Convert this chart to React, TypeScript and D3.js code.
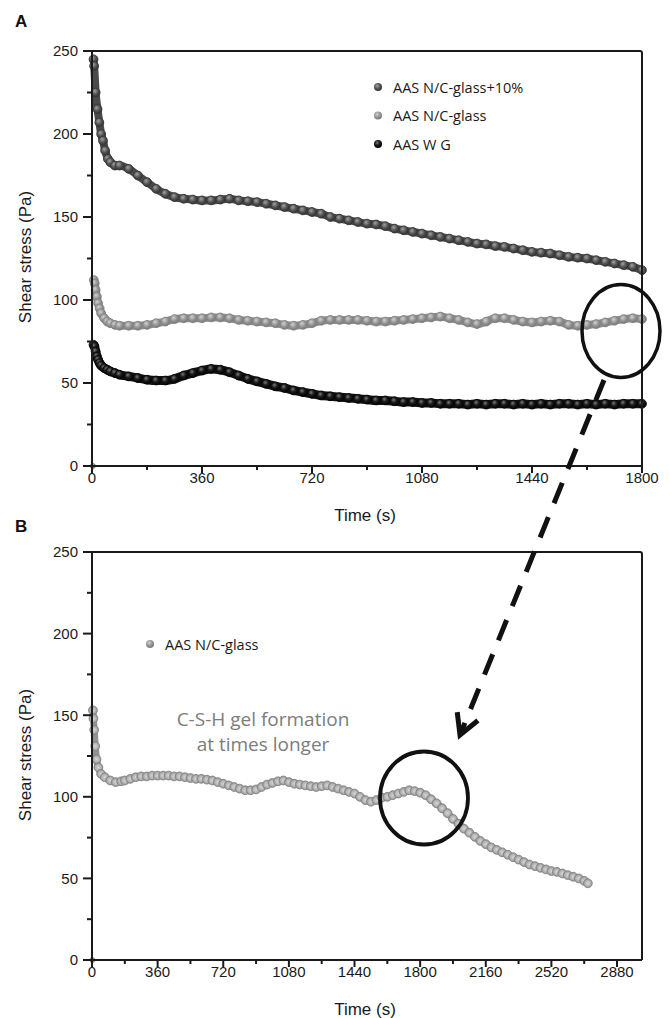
import React from "react";
import * as d3 from "d3";

// ---------- Panel A data (Time s, Shear stress Pa) ----------
const timeA1 = [5, 7, 12, 18, 24, 30, 36, 43, 52, 60, 75, 90, 120, 150, 180, 210, 240, 270, 300, 330, 360, 390, 420, 450, 480, 510, 540, 570, 600, 630, 660, 690, 720, 750, 780, 810, 840, 870, 900, 930, 960, 990, 1020, 1050, 1080, 1110, 1140, 1170, 1200, 1230, 1260, 1290, 1320, 1350, 1380, 1410, 1440, 1470, 1500, 1530, 1560, 1590, 1620, 1650, 1680, 1710, 1740, 1770, 1800];
const stressA1 = [245, 241, 225, 215, 207, 200, 196, 190, 185, 183, 181, 181, 179, 175, 171, 167, 164, 162, 161, 160.5, 160, 160, 160.5, 161, 160, 159.5, 159, 158, 157, 156, 155, 154, 153, 152, 150, 149, 148, 147, 146, 145.5, 144.5, 143, 142, 141, 140, 139, 138, 137, 136, 135, 134, 133.5, 132.5, 132, 131, 130, 129, 128.5, 128, 127, 126, 125.5, 125, 124, 123, 122, 121, 120, 118];

const timeA2 = [3, 6, 9, 12, 16, 20, 25, 30, 40, 50, 60, 75, 90, 120, 150, 180, 210, 240, 270, 300, 330, 360, 390, 420, 450, 480, 510, 540, 570, 600, 630, 660, 690, 720, 750, 780, 810, 840, 870, 900, 930, 960, 990, 1020, 1050, 1080, 1110, 1140, 1170, 1200, 1230, 1260, 1290, 1320, 1350, 1380, 1410, 1440, 1470, 1500, 1530, 1560, 1590, 1620, 1650, 1680, 1710, 1740, 1770, 1800];
const stressA2 = [0, 112, 110, 106, 102, 98, 95, 92, 89, 87, 86, 85, 84.5, 84.5, 84.5, 85, 86, 87, 88.5, 89, 89, 89, 89.5, 89.5, 89, 88, 87.5, 87, 86.5, 86, 85, 84.5, 85, 86, 87.5, 88, 88, 88, 88, 87.5, 87, 87, 87.5, 88, 88.5, 89, 89.5, 90, 89, 88, 86.5, 85.5, 87, 89, 89, 88, 87, 86.5, 87, 87.5, 87, 85, 84.5, 85, 85.5, 86.5, 87.5, 88.5, 89, 88.5];

const timeA3 = [5, 8, 12, 16, 20, 25, 30, 40, 50, 60, 75, 90, 120, 150, 180, 210, 240, 270, 300, 330, 360, 390, 420, 450, 480, 510, 540, 570, 600, 630, 660, 690, 720, 750, 780, 810, 840, 870, 900, 930, 960, 990, 1020, 1050, 1080, 1110, 1140, 1170, 1200, 1230, 1260, 1290, 1320, 1350, 1380, 1410, 1440, 1470, 1500, 1530, 1560, 1590, 1620, 1650, 1680, 1710, 1740, 1770, 1800];
const stressA3 = [73, 72, 69, 66, 64, 62, 60.5, 59, 58, 57, 56, 55, 54, 53, 52, 51.5, 51.5, 52.5, 54.5, 56, 57.5, 58.5, 58, 56.5, 54.5, 52.5, 51, 49.5, 48, 47, 45.5, 44.5, 43.5, 42.5, 42, 41.5, 41, 40.5, 40, 39.5, 39.5, 39, 38.5, 38.5, 38, 38, 37.5, 37.5, 37.5, 37, 37.5, 37, 37.5, 37.5, 37, 37.5, 37, 37.5, 37, 37.5, 37.5, 37, 37.5, 37, 37.5, 37, 37.5, 37.5, 37.5];

// ---------- Panel B data ----------
const timeB = [2, 5, 8, 12, 18, 25, 35, 50, 70, 100, 130, 160, 180, 210, 240, 270, 300, 330, 360, 390, 420, 450, 480, 510, 540, 570, 600, 630, 660, 690, 720, 750, 780, 810, 840, 870, 900, 930, 960, 990, 1020, 1050, 1080, 1110, 1140, 1170, 1200, 1230, 1260, 1290, 1320, 1350, 1380, 1410, 1440, 1470, 1500, 1530, 1560, 1590, 1620, 1650, 1680, 1710, 1740, 1770, 1800, 1830, 1860, 1890, 1920, 1950, 1980, 2010, 2040, 2070, 2100, 2130, 2160, 2190, 2220, 2250, 2280, 2310, 2340, 2370, 2400, 2430, 2460, 2490, 2520, 2550, 2580, 2610, 2640, 2670, 2700, 2720];
const stressB = [0, 153, 148, 141, 131, 123, 118, 114, 112, 110, 109, 109.5, 110, 111, 112, 112.5, 112.5, 113, 113, 113, 113, 112.5, 112.5, 112, 111.5, 111, 111, 110.5, 110, 109, 108, 107, 106, 105, 104, 104, 104.5, 106, 107.5, 108.5, 109.5, 110, 109, 108, 107.5, 107, 106.5, 106, 106.5, 107, 106, 105, 104, 103, 102, 100, 98, 97, 98, 99.5, 100, 101, 102, 103, 104, 103.5, 102.5, 101, 98.5, 96, 93, 90, 86.5, 83.5, 80.5, 78, 75.5, 73, 71, 69, 67.5, 66, 64.5, 63, 61.5, 60, 58.5, 57.5, 56.5, 55.5, 54.5, 54, 53, 52, 51, 50, 48.5, 47];

// ---------- Axes / labels ----------
const xTicksA = [0, 360, 720, 1080, 1440, 1800];
const xMinorA = [180, 540, 900, 1260, 1620];
const xTicksB = [0, 360, 720, 1080, 1440, 1800, 2160, 2520, 2880];
const xMinorB = [180, 540, 900, 1260, 1620, 1980, 2340, 2700];
const yTicks = [0, 50, 100, 150, 200, 250];
const yMinor = [25, 75, 125, 175, 225];
const legendA = ["AAS N/C-glass+10%", "AAS N/C-glass", "AAS W G"];
const legendB = ["AAS N/C-glass"];
const annotationLines = ["C-S-H gel formation", "at times longer"];

const TICK_FONT = "'Liberation Sans', Arial, sans-serif";
const LEG_FONT = "'Open Sans', 'Noto Sans', sans-serif";

type Series = { t: number[]; v: number[]; grad: string; band: string; stroke: string; bandW: number };

function Panel({
  top, bottom, xMax, xTicks, xMinor, series, label, labelY, titleY, legend,
}: {
  top: number; bottom: number; xMax: number; xTicks: number[]; xMinor: number[];
  series: Series[]; label: string; labelY: number; titleY: number;
  legend: { x: number; y: number; text: string; grad: string }[];
}) {
  const left = 92, right = 642;
  const x = d3.scaleLinear().domain([0, xMax]).range([left, right]);
  const y = d3.scaleLinear().domain([0, 250]).range([bottom, top]);
  const line = d3.line<[number, number]>()
    .defined((d) => d[1] > 0)
    .x((d) => x(d[0]))
    .y((d) => y(d[1]))
    .curve(d3.curveMonotoneX);
  return (
    <g>
      <text x={15} y={labelY} fontFamily={TICK_FONT} fontWeight="bold" fontSize={17} fill="#111">{label}</text>
      {series.map((s, i) => {
        const pts = s.t.map((t, j) => [t, s.v[j]] as [number, number]);
        return (
          <g key={i}>
            <path d={line(pts) || ""} fill="none" stroke={s.band} strokeWidth={s.bandW} strokeLinejoin="round" />
            {pts.map((p, j) => (
              <circle key={j} cx={x(p[0])} cy={y(p[1])} r={p[1] === 0 ? 2.5 : 4.4} fill={`url(#${s.grad})`} stroke={s.stroke} strokeWidth={0.9} />
            ))}
          </g>
        );
      })}
      <path d={`M${left},${bottom} L${left},${top} L${right - 2},${top} Q${right},${top} ${right},${top + 2} L${right},${bottom}`} fill="none" stroke="#1a1a1a" strokeWidth={2} />
      <line x1={84} x2={right} y1={bottom} y2={bottom} stroke="#1a1a1a" strokeWidth={2} />
      {yTicks.map((v) => (
        <g key={"y" + v}>
          <line x1={left - 9} x2={left} y1={y(v)} y2={y(v)} stroke="#1a1a1a" strokeWidth={2} />
          <text x={left - 14} y={y(v) + 5.3} textAnchor="end" fontFamily={TICK_FONT} fontSize={15} fill="#1a1a1a">{v}</text>
        </g>
      ))}
      {yMinor.map((v) => (
        <line key={"ym" + v} x1={left - 5} x2={left} y1={y(v)} y2={y(v)} stroke="#1a1a1a" strokeWidth={2} />
      ))}
      {xTicks.map((v) => (
        <g key={"x" + v}>
          <line x1={x(v)} x2={x(v)} y1={bottom} y2={bottom + 7} stroke="#1a1a1a" strokeWidth={2} />
          <text x={x(v)} y={bottom + 16.5} textAnchor="middle" fontFamily={TICK_FONT} fontSize={15} fill="#1a1a1a">{v}</text>
        </g>
      ))}
      {xMinor.map((v) => (
        <line key={"xm" + v} x1={x(v)} x2={x(v)} y1={bottom - 1} y2={bottom + 4} stroke="#1a1a1a" strokeWidth={2} />
      ))}
      <text x={365} y={bottom + 55} textAnchor="middle" fontFamily={TICK_FONT} fontSize={17} fill="#1a1a1a">Time (s)</text>
      <text transform={`translate(31,${titleY}) rotate(-90)`} textAnchor="middle" fontFamily={TICK_FONT} fontSize={17} fill="#1a1a1a">Shear stress (Pa)</text>
      {legend.map((l, i) => (
        <g key={"l" + i}>
          <circle cx={l.x} cy={l.y} r={4} fill={`url(#${l.grad})`} />
          <text x={l.x + 15} y={l.y + 5.5} fontFamily={LEG_FONT} fontSize={14.5} fill="#1a1a1a">{l.text}</text>
        </g>
      ))}
    </g>
  );
}

export default function App() {
  const seriesA: Series[] = [
    { t: timeA1, v: stressA1, grad: "gDark", band: "#4a4a4a", stroke: "#363636", bandW: 8 },
    { t: timeA2, v: stressA2, grad: "gLight", band: "#8c8c8c", stroke: "#838383", bandW: 8 },
    { t: timeA3, v: stressA3, grad: "gBlack", band: "#121212", stroke: "#080808", bandW: 9 },
  ];
  const seriesB: Series[] = [
    { t: timeB, v: stressB, grad: "gHollow", band: "#939393", stroke: "#848484", bandW: 7 },
  ];
  const ax1 = 604, ay1 = 380, ax2 = 460, ay2 = 735;
  const ang = Math.atan2(ay1 - ay2, ax1 - ax2);
  const arm = 23, spread = (29 * Math.PI) / 180;
  const h1 = [ax2 + arm * Math.cos(ang - spread), ay2 + arm * Math.sin(ang - spread)];
  const h2 = [ax2 + arm * Math.cos(ang + spread), ay2 + arm * Math.sin(ang + spread)];

  return (
    <svg width={670} height={1018} style={{ position: "absolute", left: 0, top: 0, background: "#fff" }}>
      <defs>
        <radialGradient id="gDark" cx="40%" cy="35%" r="65%">
          <stop offset="0%" stopColor="#a0a0a0" />
          <stop offset="55%" stopColor="#555" />
          <stop offset="100%" stopColor="#333" />
        </radialGradient>
        <radialGradient id="gLight" cx="40%" cy="35%" r="65%">
          <stop offset="0%" stopColor="#d0d0d0" />
          <stop offset="55%" stopColor="#979797" />
          <stop offset="100%" stopColor="#787878" />
        </radialGradient>
        <radialGradient id="gBlack" cx="40%" cy="35%" r="65%">
          <stop offset="0%" stopColor="#7a7a7a" />
          <stop offset="45%" stopColor="#1e1e1e" />
          <stop offset="100%" stopColor="#000" />
        </radialGradient>
        <radialGradient id="gHollow" cx="50%" cy="50%" r="55%">
          <stop offset="0%" stopColor="#d6d6d6" />
          <stop offset="60%" stopColor="#b2b2b2" />
          <stop offset="100%" stopColor="#858585" />
        </radialGradient>
      </defs>
      <Panel top={51} bottom={466} xMax={1800} xTicks={xTicksA} xMinor={xMinorA} series={seriesA}
        label="A" labelY={27} titleY={257}
        legend={legendA.map((text, i) => ({ x: 378, y: 87 + i * 28.5, text, grad: ["gDark", "gLight", "gBlack"][i] }))} />
      <Panel top={552} bottom={960} xMax={3017} xTicks={xTicksB} xMinor={xMinorB} series={seriesB}
        label="B" labelY={532} titleY={755}
        legend={legendB.map((text) => ({ x: 150, y: 644, text, grad: "gLight" }))} />
      {annotationLines.map((s, i) => (
        <text key={s} x={263} y={726 + i * 24.5} textAnchor="middle" fontFamily={LEG_FONT} fontSize={19} fill="#7c7c7c">{s}</text>
      ))}
      <ellipse cx={621} cy={331} rx={39} ry={46.5} fill="none" stroke="#111" strokeWidth={3.5} />
      <ellipse cx={424} cy={798} rx={44} ry={46.5} fill="none" stroke="#111" strokeWidth={3.8} />
      <line x1={ax1} y1={ay1} x2={ax2} y2={ay2} stroke="#111" strokeWidth={5} strokeDasharray="22 15" />
      <polyline points={`${h1[0]},${h1[1]} ${ax2},${ay2} ${h2[0]},${h2[1]}`} fill="none" stroke="#111" strokeWidth={5} strokeLinejoin="miter" />
    </svg>
  );
}
